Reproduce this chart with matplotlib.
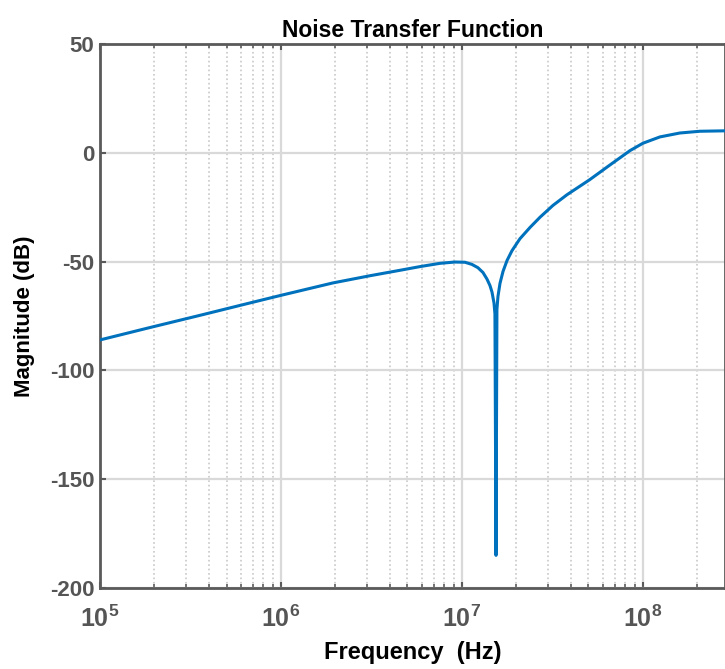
import numpy as np
import matplotlib.pyplot as plt
from matplotlib.ticker import FixedLocator, FixedFormatter, LogLocator, NullFormatter

##### Noise Transfer Function #####

plt.rcParams['font.family'] = ['Liberation Sans', 'DejaVu Sans']
plt.rcParams['mathtext.fontset'] = 'custom'
plt.rcParams['mathtext.rm'] = 'Liberation Sans:bold'
plt.rcParams['mathtext.bf'] = 'Liberation Sans:bold'
plt.rcParams['axes.unicode_minus'] = False

# 周波数 (Hz) と 振幅 (dB) -- 図から読み取った値
freq = [1e5, 1.888e5, 3.565e5, 6.74e5, 1e6, 1.936e6, 3.10e6, 4.54e6,
        5.86e6, 7.55e6, 9.14e6, 1.039e7, 1.136e7, 1.225e7, 1.306e7,
        1.374e7, 1.428e7, 1.465e7, 1.503e7, 1.521e7, 1.542e7, 1.560e7,
        1.581e7, 1.622e7, 1.686e7, 1.774e7, 1.889e7, 2.09e7, 2.377e7,
        2.70e7, 3.18e7, 3.80e7, 5.09e7, 6.57e7, 8.48e7, 1e8, 1.241e8,
        1.600e8, 2.065e8, 2.84e8]
mag_db = [-86.0, -80.3, -74.7, -69.0, -65.5, -59.8, -56.5, -54.0,
          -52.3, -50.8, -50.2, -50.3, -51.3, -52.8, -55.0,
          -58.0, -61.0, -64.0, -69.0, -74.0, -185.0, -72.0,
          -66.0, -60.0, -54.5, -49.5, -45.0, -39.5, -34.3,
          -29.6, -24.2, -19.3, -12.3, -5.6, 1.0, 4.4, 7.3,
          9.1, 9.9, 10.1]

x_ticks = [1e5, 1e6, 1e7, 1e8]
x_tick_labels = [r'$\mathbf{10^{5}}$', r'$\mathbf{10^{6}}$', r'$\mathbf{10^{7}}$', r'$\mathbf{10^{8}}$']
y_ticks = [-200, -150, -100, -50, 0, 50]

fig = plt.figure(figsize=(7.25, 6.69), dpi=100)
ax = fig.add_axes([100/725, 81/669, 625/725, 544/669])

ax.semilogx(freq, mag_db, color='#0072BD', linewidth=2.2, zorder=3)

ax.set_xlim(1e5, 2.84e8)
ax.set_ylim(-200, 50)

ax.xaxis.set_major_locator(FixedLocator(x_ticks))
ax.xaxis.set_major_formatter(FixedFormatter(x_tick_labels))
ax.xaxis.set_minor_locator(LogLocator(base=10, subs=np.arange(2, 10)))
ax.xaxis.set_minor_formatter(NullFormatter())
ax.set_yticks(y_ticks)

ax.grid(True, which='major', color='#d9d9d9', linewidth=1.6, linestyle='-')
ax.grid(True, which='minor', axis='x', color='#c8c8c8', linewidth=1.2, linestyle=':')
ax.set_axisbelow(True)

for s in ax.spines.values():
    s.set_color('#5a5a5a')
    s.set_linewidth(2.0)

ax.tick_params(axis='both', which='both', direction='in', colors='#5a5a5a', top=True)
ax.tick_params(axis='both', which='major', length=4, width=1.5, labelcolor='#555555')
ax.tick_params(axis='y', which='major', labelsize=16, pad=4)
ax.tick_params(axis='x', which='major', labelsize=18, pad=13)
ax.tick_params(axis='x', which='minor', length=3, width=1.2)
for lab in ax.get_yticklabels():
    lab.set_fontweight('bold')

ax.set_title('Noise Transfer Function', fontsize=16.5, fontweight='bold', pad=5)
ax.set_xlabel('Frequency  (Hz)', fontsize=17, fontweight='bold', labelpad=6)
ax.set_ylabel('Magnitude (dB)', fontsize=16, fontweight='bold', labelpad=11)

plt.savefig('out.png', dpi=100)
